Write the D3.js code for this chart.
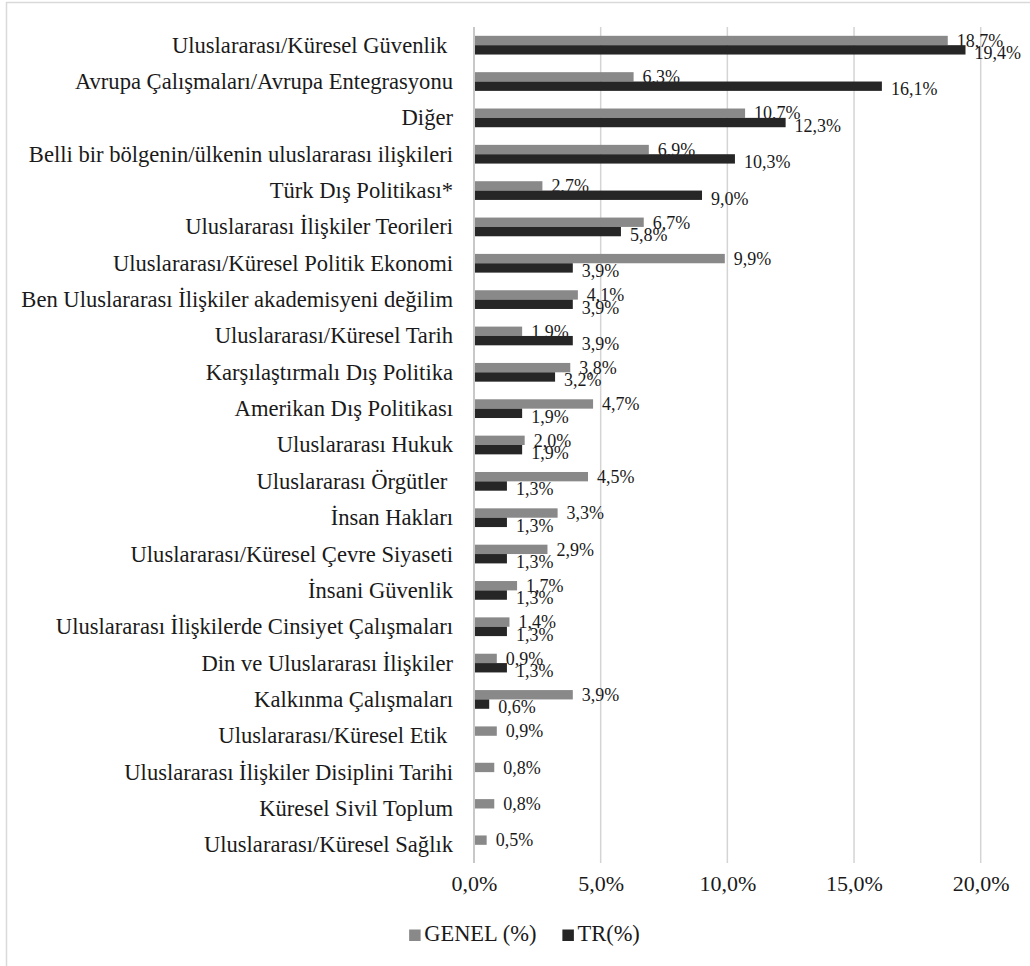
<!DOCTYPE html>
<html>
<head>
<meta charset="utf-8">
<script src="https://cdn.jsdelivr.net/npm/d3@7"></script>
<style>
    html, body { margin: 0; padding: 0; background: #fff; }
    svg text { font-family: "Liberation Serif", "Times New Roman", serif; white-space: pre; }
</style>
</head>
<body>
<div id="chart"></div>
<script>
// categorie (dall'alto in basso)
const categories = [
    'Uluslararası/Küresel Güvenlik ',
    'Avrupa Çalışmaları/Avrupa Entegrasyonu',
    'Diğer',
    'Belli bir bölgenin/ülkenin uluslararası ilişkileri',
    'Türk Dış Politikası*',
    'Uluslararası İlişkiler Teorileri',
    'Uluslararası/Küresel Politik Ekonomi',
    'Ben Uluslararası İlişkiler akademisyeni değilim',
    'Uluslararası/Küresel Tarih',
    'Karşılaştırmalı Dış Politika',
    'Amerikan Dış Politikası',
    'Uluslararası Hukuk',
    'Uluslararası Örgütler ',
    'İnsan Hakları',
    'Uluslararası/Küresel Çevre Siyaseti',
    'İnsani Güvenlik',
    'Uluslararası İlişkilerde Cinsiyet Çalışmaları',
    'Din ve Uluslararası İlişkiler',
    'Kalkınma Çalışmaları',
    'Uluslararası/Küresel Etik ',
    'Uluslararası İlişkiler Disiplini Tarihi',
    'Küresel Sivil Toplum',
    'Uluslararası/Küresel Sağlık'
];

const seriesNames = ['GENEL (%)', 'TR(%)'];

const genelValues = [18.7, 6.3, 10.7, 6.9, 2.7, 6.7, 9.9, 4.1, 1.9, 3.8, 4.7, 2.0, 4.5, 3.3, 2.9, 1.7, 1.4, 0.9, 3.9, 0.9, 0.8, 0.8, 0.5];
const trValues    = [19.4, 16.1, 12.3, 10.3, 9.0, 5.8, 3.9, 3.9, 3.9, 3.2, 1.9, 1.9, 1.3, 1.3, 1.3, 1.3, 1.3, 1.3, 0.6, null, null, null, null];

const tickValues = [0, 5, 10, 15, 20];

const colors = { 'GENEL (%)': '#898989', 'TR(%)': '#262626' };

const width = 1030, height = 966;
const margin = { top: 27, right: 49.3, bottom: 103, left: 474 };

// formato con virgola decimale
const locale = d3.formatLocale({ decimal: ',', thousands: '.', grouping: [3], currency: ['', ''] });
const fmt = locale.format('.1f');

const rows = categories.map((c, i) => ({
    category: c,
    values: [
        { key: seriesNames[0], value: genelValues[i] },
        { key: seriesNames[1], value: trValues[i] }
    ].filter(d => d.value !== null)
}));

const svg = d3.select('#chart').append('svg')
    .attr('width', width)
    .attr('height', height);

// cornice esterna
svg.append('rect')
    .attr('x', 6.5).attr('y', 2.5)
    .attr('width', 1200).attr('height', 1200)
    .attr('fill', 'none')
    .attr('stroke', '#d9d9d9')
    .attr('stroke-width', 1.5);

const x = d3.scaleLinear()
    .domain([0, 20])
    .range([margin.left, width - margin.right]);

const y = d3.scaleBand()
    .domain(categories)
    .range([margin.top, height - margin.bottom])
    .paddingInner(0.485)
    .paddingOuter(0.2425);

const ySub = d3.scaleBand()
    .domain(seriesNames)
    .range([0, y.bandwidth()]);

// griglia verticale
svg.append('g')
    .selectAll('line')
    .data(tickValues.slice(1))
    .join('line')
    .attr('x1', d => x(d)).attr('x2', d => x(d))
    .attr('y1', margin.top).attr('y2', height - margin.bottom)
    .attr('stroke', '#d4d4d4')
    .attr('stroke-width', 1.5);

// asse x (solo etichette)
const xAxis = svg.append('g')
    .attr('transform', `translate(0, ${height - margin.bottom})`)
    .call(d3.axisBottom(x).tickValues(tickValues).tickSize(0).tickPadding(12)
        .tickFormat(d => fmt(d) + '%'));
xAxis.select('.domain').remove();
xAxis.selectAll('text')
    .attr('font-size', '22px')
    .attr('fill', '#1a1a1a')
    .attr('dy', '0.71em');

// etichette categorie
svg.append('g')
    .selectAll('text')
    .data(categories)
    .join('text')
    .attr('x', margin.left - 21)
    .attr('y', d => y(d) + y.bandwidth() / 2)
    .attr('dy', '0.33em')
    .attr('text-anchor', 'end')
    .attr('font-size', '22.6px')
    .attr('fill', '#1a1a1a')
    .text(d => d);

const groups = svg.append('g')
    .selectAll('g')
    .data(rows)
    .join('g')
    .attr('transform', d => `translate(0, ${y(d.category)})`);

// etichette valori (sotto le barre, come nell'originale)
groups.selectAll('text')
    .data(d => d.values)
    .join('text')
    .attr('x', d => x(d.value) + 9)
    .attr('y', d => ySub(d.key) + ySub.bandwidth() / 2 + (d.key === seriesNames[0] ? 0 : 3))
    .attr('dy', '0.35em')
    .attr('font-size', '18px')
    .attr('fill', '#1a1a1a')
    .text(d => fmt(d.value) + '%');

// barre
groups.selectAll('rect')
    .data(d => d.values)
    .join('rect')
    .attr('x', x(0))
    .attr('y', d => ySub(d.key))
    .attr('width', d => x(d.value) - x(0))
    .attr('height', ySub.bandwidth())
    .attr('fill', d => colors[d.key]);

// asse verticale
svg.append('line')
    .attr('x1', x(0)).attr('x2', x(0))
    .attr('y1', margin.top).attr('y2', height - margin.bottom)
    .attr('stroke', '#c8c8c8')
    .attr('stroke-width', 2);

// legenda
const legend = svg.append('g');
const items = legend.selectAll('g')
    .data(seriesNames)
    .join('g');
items.append('rect')
    .attr('width', 11.5).attr('height', 11.5)
    .attr('y', -11.5)
    .attr('fill', d => colors[d]);
items.append('text')
    .attr('x', 15)
    .attr('font-size', '22.5px')
    .attr('fill', '#1a1a1a')
    .text(d => d);

let offset = 0;
items.each(function() {
    const w = d3.select(this).select('text').node().getComputedTextLength();
    d3.select(this).attr('transform', `translate(${offset}, 0)`);
    offset += 15 + w + 26;
});
const legendWidth = offset - 26;
legend.attr('transform', `translate(${524.5 - legendWidth / 2}, 941)`);
</script>
</body>
</html>
